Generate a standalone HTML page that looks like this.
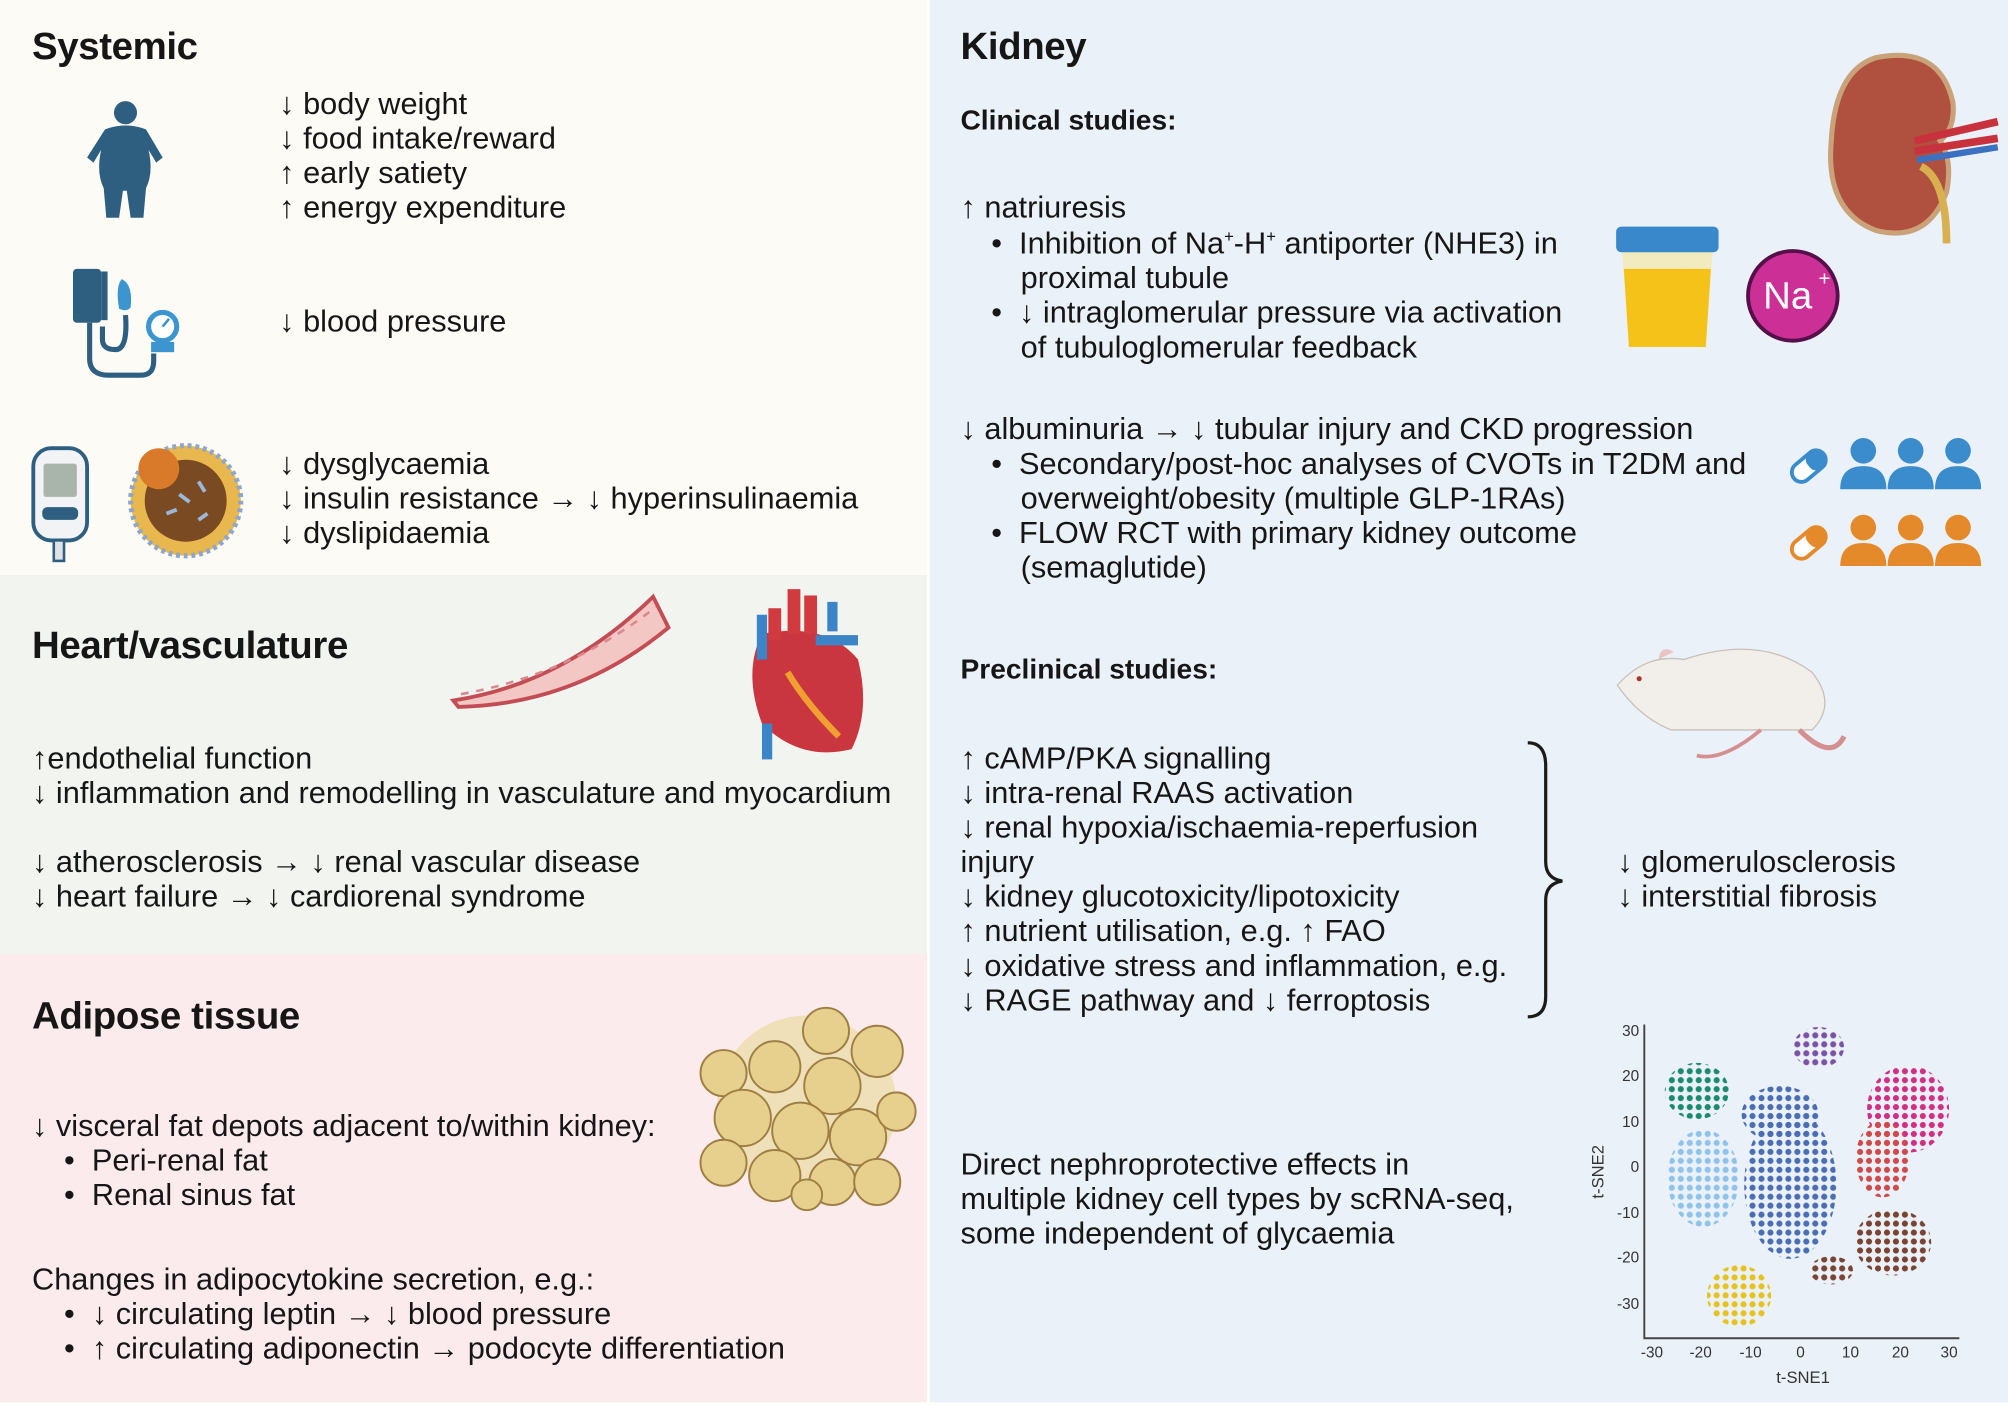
<!DOCTYPE html>
<html><head><meta charset="utf-8">
<style>
html,body{margin:0;padding:0;background:#fff;}
body{width:2008px;height:1407px;overflow:hidden;position:relative;}
#s{position:absolute;left:0;top:0;width:1568px;height:1099px;transform:scale(1.28061);transform-origin:0 0;font-family:"Liberation Sans",sans-serif;color:#161616;}
.bg{position:absolute;}
.t{position:absolute;font-size:24px;line-height:27px;white-space:nowrap;letter-spacing:0px;}
.h{position:absolute;font-size:30px;font-weight:bold;white-space:nowrap;line-height:34px;letter-spacing:-0.3px;}
.sh{position:absolute;font-size:22px;font-weight:bold;white-space:nowrap;line-height:27px;}
svg{position:absolute;overflow:visible;}
sup{font-size:13px;vertical-align:9px;line-height:0;}
</style></head><body><div id="s">
<div class="bg" style="left:0;top:0;width:724px;height:449px;background:#fcfbf5"></div>
<div class="bg" style="left:0;top:449px;width:724px;height:296px;background:#f1f4ef"></div>
<div class="bg" style="left:0;top:745px;width:724px;height:350px;background:#fcebec"></div>
<div class="bg" style="left:726px;top:0;width:842px;height:1095px;background:#ebf1f9"></div>

<div class="h" style="left:25px;top:20px">Systemic</div>
<div class="t" style="left:218px;top:68px">↓ body weight<br>↓ food intake/reward<br>↑ early satiety<br>↑ energy expenditure</div>
<div class="t" style="left:218px;top:238px">↓ blood pressure</div>
<div class="t" style="left:218px;top:349px">↓ dysglycaemia<br>↓ insulin resistance → ↓ hyperinsulinaemia<br>↓ dyslipidaemia</div>

<svg style="left:60px;top:75px" width="75" height="100">
<g fill="#2e5f80"><circle cx="38" cy="13" r="9"/>
<path d="M22 26 Q38 20 54 26 L67 48 L62 52 L56 42 Q60 60 54 72 L52 95 L42 95 L39 74 L36 74 L33 95 L23 95 L21 72 Q15 60 19 42 L13 52 L8 48 Z"/></g></svg>
<svg style="left:55px;top:210px" width="90" height="90">
<rect x="2" y="0" width="22" height="42" rx="3" fill="#2e5f80"/>
<rect x="24" y="2" width="5" height="38" fill="#2e5f80"/>
<path d="M40 8 Q49 12 47 30 Q44 34 38 31 Q35 14 40 8Z" fill="#3c95cf"/>
<path d="M15 42 V70 Q15 83 30 83 H55 Q65 83 65 72 V66" fill="none" stroke="#2e5f80" stroke-width="4"/>
<path d="M25 45 V55 Q25 63 35 63 Q45 63 43 36" fill="none" stroke="#2e5f80" stroke-width="4"/>
<circle cx="72" cy="45" r="11" fill="#fff" stroke="#3c95cf" stroke-width="4"/>
<line x1="72" y1="45" x2="77" y2="39" stroke="#3c95cf" stroke-width="2"/>
<rect x="63" y="57" width="18" height="8" fill="#3c95cf"/></svg>
<svg style="left:24px;top:348px" width="50" height="95">
<rect x="2" y="2" width="42" height="72" rx="14" fill="#f2f3f5" stroke="#2e5f80" stroke-width="3"/>
<rect x="10" y="14" width="26" height="26" rx="2" fill="#a9b4ab"/>
<rect x="9" y="48" width="28" height="10" rx="4" fill="#2e5f80"/>
<rect x="18" y="74" width="8" height="16" fill="#dfe3e6" stroke="#2e5f80" stroke-width="2"/></svg>
<svg style="left:100px;top:346px" width="90" height="90">
<circle cx="45" cy="45" r="43" fill="#e8b84e" stroke="#8ea6c9" stroke-width="4" stroke-dasharray="3 3"/>
<circle cx="45" cy="45" r="32" fill="#7a4a22"/>
<circle cx="24" cy="20" r="16" fill="#d97a2a"/>
<g stroke="#9db7d8" stroke-width="3"><line x1="40" y1="40" x2="48" y2="46"/><line x1="55" y1="30" x2="60" y2="38"/><line x1="30" y1="55" x2="38" y2="52"/><line x1="55" y1="60" x2="62" y2="55"/></g></svg>

<div class="h" style="left:25px;top:488px">Heart/vasculature</div>
<svg style="left:350px;top:462px" width="175" height="90">
<path d="M4 85 Q90 72 160 4 L172 28 Q100 88 8 90 Z" fill="#f3c7c4" stroke="#c44c55" stroke-width="3"/>
<path d="M10 80 Q95 65 162 12" fill="none" stroke="#d98a8f" stroke-width="2" stroke-dasharray="6 6"/></svg>
<svg style="left:575px;top:455px" width="105" height="140">
<path d="M20 40 Q5 70 20 110 Q50 140 90 130 Q105 100 95 60 Q70 30 20 40Z" fill="#c9363f"/>
<path d="M40 70 Q55 95 80 120" fill="none" stroke="#f0a030" stroke-width="5"/>
<path d="M30 20 V45 M45 5 V40 M58 10 V40" stroke="#d13a3f" stroke-width="10"/>
<path d="M20 25 V60 M62 45 H95 M75 38 V15" stroke="#3c84c8" stroke-width="8"/>
<rect x="20" y="110" width="8" height="28" fill="#3c84c8"/></svg>
<div class="t" style="left:25px;top:579px">↑endothelial function<br>↓ inflammation and remodelling in vasculature and myocardium</div>
<div class="t" style="left:25px;top:660px">↓ atherosclerosis → ↓ renal vascular disease<br>↓ heart failure → ↓ cardiorenal syndrome</div>

<div class="h" style="left:25px;top:777px">Adipose tissue</div>
<div class="t" style="left:25px;top:866px">↓ visceral fat depots adjacent to/within kidney:</div>
<div class="t" style="left:50px;top:893px">•&nbsp;&nbsp;Peri-renal fat<br>•&nbsp;&nbsp;Renal sinus fat</div>
<div class="t" style="left:25px;top:986px">Changes in adipocytokine secretion, e.g.:</div>
<div class="t" style="left:50px;top:1013px">•&nbsp;&nbsp;↓ circulating leptin → ↓ blood pressure<br>•&nbsp;&nbsp;↑ circulating adiponectin → podocyte differentiation</div>
<svg style="left:545px;top:783px" width="170" height="160">
<g fill="#e6cf8a" stroke="#9a7a3a" stroke-width="1.5" opacity="0.95">
<circle cx="85" cy="80" r="70" fill="#efe0b8" stroke="none"/>
<circle cx="100" cy="22" r="18"/><circle cx="140" cy="38" r="20"/><circle cx="60" cy="50" r="20"/><circle cx="105" cy="65" r="22"/><circle cx="20" cy="55" r="18"/>
<circle cx="35" cy="90" r="22"/><circle cx="80" cy="100" r="22"/><circle cx="125" cy="105" r="22"/><circle cx="155" cy="85" r="15"/>
<circle cx="20" cy="125" r="18"/><circle cx="60" cy="135" r="20"/><circle cx="105" cy="140" r="18"/><circle cx="140" cy="140" r="18"/><circle cx="85" cy="150" r="12"/></g></svg>

<div class="h" style="left:750px;top:20px">Kidney</div>
<div class="sh" style="left:750px;top:80px">Clinical studies:</div>
<div class="t" style="left:750px;top:149px">↑ natriuresis</div>
<div class="t" style="left:774px;top:177px">•&nbsp;&nbsp;Inhibition of Na<sup>+</sup>-H<sup>+</sup> antiporter (NHE3) in</div>
<div class="t" style="left:797px;top:204px">proximal tubule</div>
<div class="t" style="left:774px;top:231px">•&nbsp;&nbsp;↓ intraglomerular pressure via activation</div>
<div class="t" style="left:797px;top:258px">of tubuloglomerular feedback</div>
<div class="t" style="left:750px;top:322px">↓ albuminuria → ↓ tubular injury and CKD progression</div>
<div class="t" style="left:774px;top:349px">•&nbsp;&nbsp;Secondary/post-hoc analyses of CVOTs in T2DM and</div>
<div class="t" style="left:797px;top:376px">overweight/obesity (multiple GLP-1RAs)</div>
<div class="t" style="left:774px;top:403px">•&nbsp;&nbsp;FLOW RCT with primary kidney outcome</div>
<div class="t" style="left:797px;top:430px">(semaglutide)</div>
<svg style="left:1425px;top:40px" width="140" height="155">
<path d="M40 5 Q90 -5 100 40 Q102 60 90 70 Q100 85 95 110 Q80 150 40 140 Q0 125 5 70 Q8 15 40 5Z" fill="#b0503f" stroke="#c9a27a" stroke-width="4"/>
<path d="M70 70 L135 55 M70 78 L135 68" stroke="#c8323c" stroke-width="6"/>
<path d="M72 85 L135 75" stroke="#3c70c0" stroke-width="5"/>
<path d="M75 90 Q95 100 95 150" fill="none" stroke="#d8b050" stroke-width="6"/></svg>
<svg style="left:1262px;top:175px" width="82" height="100">
<path d="M4 12 H76 L70 96 H10 Z" fill="#f7e8a8" opacity="0.7"/>
<path d="M6 35 H74 L70 96 H10 Z" fill="#f5c21a"/>
<rect x="0" y="2" width="80" height="20" rx="4" fill="#3a88cc"/></svg>
<svg style="left:1362px;top:193px" width="76" height="76">
<circle cx="38" cy="38" r="35" fill="#cc2f95" stroke="#55104a" stroke-width="3"/>
<text x="34" y="48" text-anchor="middle" font-family="Liberation Sans" font-size="30" fill="#fff">Na</text>
<text x="58" y="30" font-family="Liberation Sans" font-size="16" fill="#fff">+</text></svg>
<svg style="left:1395px;top:340px" width="160" height="110">
<g transform="rotate(-40 17 25)"><rect x="3" y="17" width="30" height="15" rx="7.5" fill="#fff" stroke="#3a8ccc" stroke-width="3"/><rect x="18" y="17" width="15" height="15" rx="6" fill="#3a8ccc"/></g>
<g fill="#3a8ccc"><circle cx="60" cy="12" r="10"/><path d="M42 42 Q42 24 60 24 Q78 24 78 42Z"/><circle cx="97" cy="12" r="10"/><path d="M79 42 Q79 24 97 24 Q115 24 115 42Z"/><circle cx="134" cy="12" r="10"/><path d="M116 42 Q116 24 134 24 Q152 24 152 42Z"/></g>
<g transform="translate(0,60)"><g transform="rotate(-40 17 25)"><rect x="3" y="17" width="30" height="15" rx="7.5" fill="#fff" stroke="#e48a2a" stroke-width="3"/><rect x="18" y="17" width="15" height="15" rx="6" fill="#e48a2a"/></g>
<g fill="#e48a2a"><circle cx="60" cy="12" r="10"/><path d="M42 42 Q42 24 60 24 Q78 24 78 42Z"/><circle cx="97" cy="12" r="10"/><path d="M79 42 Q79 24 97 24 Q115 24 115 42Z"/><circle cx="134" cy="12" r="10"/><path d="M116 42 Q116 24 134 24 Q152 24 152 42Z"/></g></g></svg>

<div class="sh" style="left:750px;top:509px">Preclinical studies:</div>
<svg style="left:1255px;top:495px" width="190" height="105">
<path d="M8 40 Q30 15 60 20 Q120 0 160 30 Q180 55 160 75 L50 75 Q25 65 8 40Z" fill="#f2efea" stroke="#c8c0b8" stroke-width="1"/>
<path d="M40 20 Q42 8 52 14" fill="#eac4c0"/>
<path d="M150 75 Q175 100 185 80" fill="none" stroke="#d49090" stroke-width="4"/>
<path d="M120 75 Q90 100 70 95" fill="none" stroke="#d49090" stroke-width="3"/>
<circle cx="25" cy="35" r="2" fill="#a33"/></svg>
<div class="t" style="left:750px;top:579px">↑ cAMP/PKA signalling<br>↓ intra-renal RAAS activation<br>↓ renal hypoxia/ischaemia-reperfusion<br>injury<br>↓ kidney glucotoxicity/lipotoxicity<br>↑ nutrient utilisation, e.g. ↑ FAO<br>↓ oxidative stress and inflammation, e.g.<br>↓ RAGE pathway and ↓ ferroptosis</div>
<svg style="left:1190px;top:578px" width="40" height="220">
<path d="M3 2 Q17 2 17 20 V95 Q17 108 30 110 Q17 112 17 125 V200 Q17 216 3 216" fill="none" stroke="#1b1b1b" stroke-width="2.5"/></svg>
<div class="t" style="left:1263px;top:660px">↓ glomerulosclerosis<br>↓ interstitial fibrosis</div>
<div class="t" style="left:750px;top:896px">Direct nephroprotective effects in<br>multiple kidney cell types by scRNA-seq,<br>some independent of glycaemia</div>

<svg style="left:1230px;top:790px" width="330" height="300">
<defs>
<pattern id="p1" width="7" height="7" patternUnits="userSpaceOnUse"><circle cx="3.5" cy="3.5" r="2.4" fill="#1a8a6e"/></pattern>
<pattern id="p2" width="7" height="7" patternUnits="userSpaceOnUse"><circle cx="3.5" cy="3.5" r="2.4" fill="#7b53a6"/></pattern>
<pattern id="p3" width="7" height="7" patternUnits="userSpaceOnUse"><circle cx="3.5" cy="3.5" r="2.4" fill="#8fc3ea"/></pattern>
<pattern id="p4" width="7" height="7" patternUnits="userSpaceOnUse"><circle cx="3.5" cy="3.5" r="2.4" fill="#4a6db3"/></pattern>
<pattern id="p5" width="7" height="7" patternUnits="userSpaceOnUse"><circle cx="3.5" cy="3.5" r="2.4" fill="#d12f83"/></pattern>
<pattern id="p6" width="7" height="7" patternUnits="userSpaceOnUse"><circle cx="3.5" cy="3.5" r="2.4" fill="#cf4a4a"/></pattern>
<pattern id="p7" width="7" height="7" patternUnits="userSpaceOnUse"><circle cx="3.5" cy="3.5" r="2.4" fill="#7a4432"/></pattern>
<pattern id="p8" width="7" height="7" patternUnits="userSpaceOnUse"><circle cx="3.5" cy="3.5" r="2.4" fill="#e6c21e"/></pattern>
</defs>
<g transform="translate(-1230,-790)">
<path d="M1284 800 V1045 H1530" fill="none" stroke="#444" stroke-width="1.5"/>
<g font-family="Liberation Sans" font-size="12" fill="#333" text-anchor="end">
<text x="1280" y="809">30</text><text x="1280" y="844">20</text><text x="1280" y="880">10</text><text x="1280" y="915">0</text><text x="1280" y="951">-10</text><text x="1280" y="986">-20</text><text x="1280" y="1022">-30</text></g>
<g font-family="Liberation Sans" font-size="12" fill="#333" text-anchor="middle">
<text x="1290" y="1060">-30</text><text x="1328" y="1060">-20</text><text x="1367" y="1060">-10</text><text x="1406" y="1060">0</text><text x="1445" y="1060">10</text><text x="1484" y="1060">20</text><text x="1522" y="1060">30</text>
<text x="1408" y="1080" font-size="13">t-SNE1</text>
<text x="1252" y="915" font-size="13" transform="rotate(-90 1252 915)">t-SNE2</text></g>
<ellipse cx="1325" cy="852" rx="25" ry="22" fill="url(#p1)"/>
<ellipse cx="1420" cy="818" rx="20" ry="16" fill="url(#p2)"/>
<ellipse cx="1330" cy="920" rx="28" ry="38" fill="url(#p3)"/>
<ellipse cx="1398" cy="925" rx="36" ry="58" fill="url(#p4)"/>
<ellipse cx="1390" cy="870" rx="30" ry="22" fill="url(#p4)"/>
<ellipse cx="1490" cy="866" rx="32" ry="34" fill="url(#p5)"/>
<ellipse cx="1470" cy="905" rx="21" ry="30" fill="url(#p6)"/>
<ellipse cx="1478" cy="970" rx="30" ry="26" fill="url(#p7)"/>
<ellipse cx="1430" cy="992" rx="17" ry="11" fill="url(#p7)"/>
<ellipse cx="1358" cy="1012" rx="25" ry="24" fill="url(#p8)"/>
</g></svg>
</div></body></html>
